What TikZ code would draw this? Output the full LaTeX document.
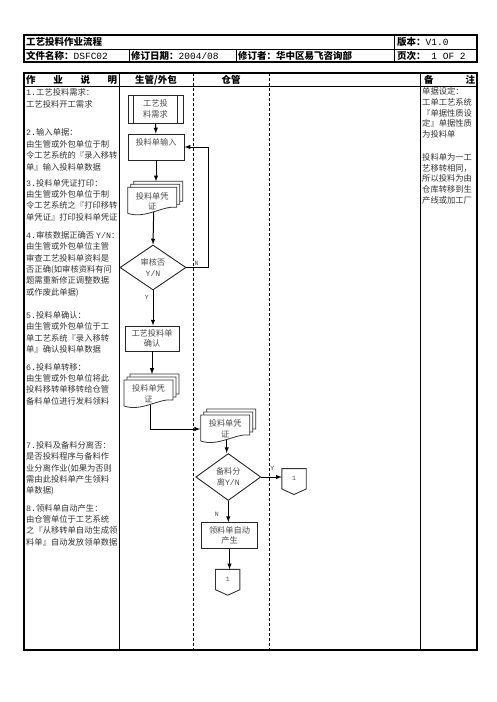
\documentclass[tikz,border=0pt]{standalone}
\usepackage{fontspec}
\setmainfont{Noto Sans CJK SC}
\newfontfamily\monof{Liberation Mono}
\usetikzlibrary{shapes.geometric,positioning,calc}

\newcommand\lm[1]{{\monof\mdseries #1}}

\tikzset{
  frame/.style={line width=1.2pt},
  rule/.style={line width=0.9pt},
  lane/.style={line width=0.7pt, dash pattern=on 3pt off 2pt},
  hd/.style={font=\fontsize{9.5}{11}\selectfont\bfseries, inner sep=0, anchor=west},
  desc/.style={font=\fontsize{8.3}{11.4}\selectfont, text=black!80, align=left, anchor=north west, inner sep=0},
  note/.style={desc, font=\fontsize{8.3}{10.9}\selectfont},
  box/.style={draw=black!85, line width=0.9pt, fill=white, align=center, inner sep=0, font=\fontsize{8.2}{10.5}\selectfont, text=black!70},
  dec/.style={box, diamond, aspect=1.47, minimum width=66pt, minimum height=45pt},
  flow/.style={line width=1pt, -latex},
  yn/.style={font=\fontsize{6.5}{7}\monof, text=black!70, inner sep=0},
  offpage/.style={font=\fontsize{6.5}{7}\monof, text=black!70, inner sep=0, minimum width=24pt, minimum height=20pt},
  pics/docstack/.style={code={
    \foreach \d in {6,3,0}
      \filldraw[draw=black!80, line width=0.8pt, fill=white] (\d,-\d) -- ++(49,0) -- ++(0,20) .. controls +(-14,-2) and +(18,6) .. ++(-49,6) -- cycle;
    \node[box, draw=none, fill=none, minimum width=49pt, minimum height=28pt] (-t) at (24.5,14) {#1};
    \coordinate (-top) at (27.5,-6);
    \coordinate (-b) at (26,24.5);
  }},
}

\begin{document}
\begin{tikzpicture}[x=1pt, y=-1pt]
\useasboundingbox (0,0) rectangle (496,702);

% title block
\draw[frame] (24,35) rectangle (477,62);
\draw[rule] (24,49) -- (477,49);
\draw[rule] (394,35) -- (394,62);
\draw[rule] (129,49) -- (129,62);
\draw[rule] (236,49) -- (236,62);
\node[hd] (title) at (26,42) {工艺投料作业流程};
\node[hd] (ver) at (397,42) {版本：\lm{V1.0}};
\node[hd] (fname) at (26,55.5) {文件名称：\lm{DSFC02}};
\node[hd] (rdate) at (131,55.5) {修订日期：\lm{2004/08}};
\node[hd] (rman) at (238,55.5) {修订者：华中区易飞咨询部};
\node[hd] (page) at (397,55.5) {页次：\lm{ 1 OF 2}};

% main table
\draw[frame] (24,73) rectangle (477,650);
\draw[rule] (24,86) -- (477,86);
\draw[rule] (119,73) -- (119,650);
\draw[rule] (420,73) -- (420,650);
\draw[lane] (193,73) -- (193,650);
\draw[lane] (269,73) -- (269,650);
\node[hd] (hdesc) at (26,80) {\makebox[91pt][l]{作\hfill 业\hfill 说\hfill 明}};
\node[hd, anchor=center] (hprod) at (156,80) {生管/外包};
\node[hd, anchor=center] (hware) at (231,80) {仓管};
\node[hd] (hnote) at (424,80) {\makebox[51pt][l]{备\hfill 注}};

% job description
\node[desc] (d1) at (26,88.7) {\lm{1.}工艺投料需求：\\工艺投料开工需求};
\node[desc] (d2) at (26,128.7) {\lm{2.}输入单据：\\由生管或外包单位于制\\令工艺系统的『录入移转\\单』输入投料单数据};
\node[desc] (d3) at (26,179) {\lm{3.}投料单凭证打印：\\由生管或外包单位于制\\令工艺系统之『打印移转\\单凭证』打印投料单凭证};
\node[desc] (d4) at (26,231) {\lm{4.}审核数据正确否 \lm{Y/N}：\\由生管或外包单位主管\\审查工艺投料单资料是\\否正确(如审核资料有问\\题需重新修正调整数据\\或作废此单据)};
\node[desc] (d5) at (26,311) {\lm{5.}投料单确认：\\由生管或外包单位于工\\单工艺系统『录入移转\\单』确认投料单数据};
\node[desc] (d6) at (26,363) {\lm{6.}投料单转移：\\由生管或外包单位将此\\投料移转单移转给仓管\\备料单位进行发料领料};
\node[desc] (d7) at (26,441) {\lm{7.}投料及备料分离否：\\是否投料程序与备料作\\业分离作业(如果为否则\\需由此投料单产生领料\\单数据)};
\node[desc] (d8) at (26,504) {\lm{8.}领料单自动产生：\\由仓管单位于工艺系统\\之『从移转单自动生成领\\料单』自动发放领单数据};

% remarks
\node[note] (r1) at (422,87) {单据设定：\\工单工艺系统\\『单据性质设\\定』单据性质\\为投料单};
\node[note] (r2) at (422,153) {投料单为一工\\艺移转相同，\\所以投料为由\\仓库转移到生\\产线或加工厂};

% flow
\node[box, minimum width=55pt, minimum height=28pt] (need) at (155.5,109) {工艺投\\料需求};
\draw[line width=0.9pt, draw=black!85] ([xshift=6.3pt]need.north west) -- ([xshift=6.3pt]need.south west)
  ([xshift=-6.3pt]need.north east) -- ([xshift=-6.3pt]need.south east);
\node[box, minimum width=56pt, minimum height=26pt] (input) at (156,147) {投料单输入\\ \mbox{}};
\pic (doc1) at (127.7,187.3) {docstack={投料单凭\\证}};
\node[dec] (audit) at (153,267.5) {审核否\\\lm{Y/N}};
\node[box, minimum width=54pt, minimum height=25pt] (confirm) at (152,338.5) {工艺投料单\\确认};
\pic (doc2) at (124,380) {docstack={投料单凭\\证}};
\pic (doc3) at (200.7,415) {docstack={投料单凭\\证}};
\node[dec, minimum width=65pt, minimum height=47pt] (split) at (228.3,477) {备料分\\离\lm{Y/N}};
\node[box, minimum width=56pt, minimum height=26pt] (auto) at (229.5,535.5) {领料单自动\\产生};
\node[offpage] (conn1) at (294,478.8) {1};
\node[offpage] (conn2) at (227.7,579.5) {1};
\foreach \c in {conn1,conn2}
  \draw[line width=0.9pt, draw=black!80] (\c.north west) -- (\c.north east) -- (\c.south east)
    -- ([yshift=-5.5pt]\c.south) -- (\c.south west) -- cycle;

\draw[flow] (need) -- (input);
\draw[flow] (input.south) -- (input.south |- doc1-top);
\draw[flow] (doc1-b) -- (audit.north);
\draw[flow] (audit.east) -- ++(22,0) |- (input.east);
\draw[flow] (audit.south) -- (audit.south |- confirm.north);
\draw[flow] (confirm.south) -- (confirm.south |- doc2-top);
\draw[flow] (doc2-b) |- (doc3-t.west);
\draw[flow] (doc3-b) -- (doc3-b |- split.north);
\draw[flow] (split.east) -- (split.east -| conn1.west);
\draw[flow] (split.south) -- (split.south |- auto.north);
\draw[flow] (auto.south) -- (auto.south |- conn2.north);

\node[yn] (n1) at ([shift={(10,-4.5)}]audit.east) {N};
\node[yn] (y1) at ([shift={(-6.3,6.7)}]audit.south) {Y};
\node[yn] (y2) at ([shift={(11,-9)}]split.east) {Y};
\node[yn] (n2) at ([shift={(-11.6,13)}]split.south) {N};
\end{tikzpicture}
\end{document}
